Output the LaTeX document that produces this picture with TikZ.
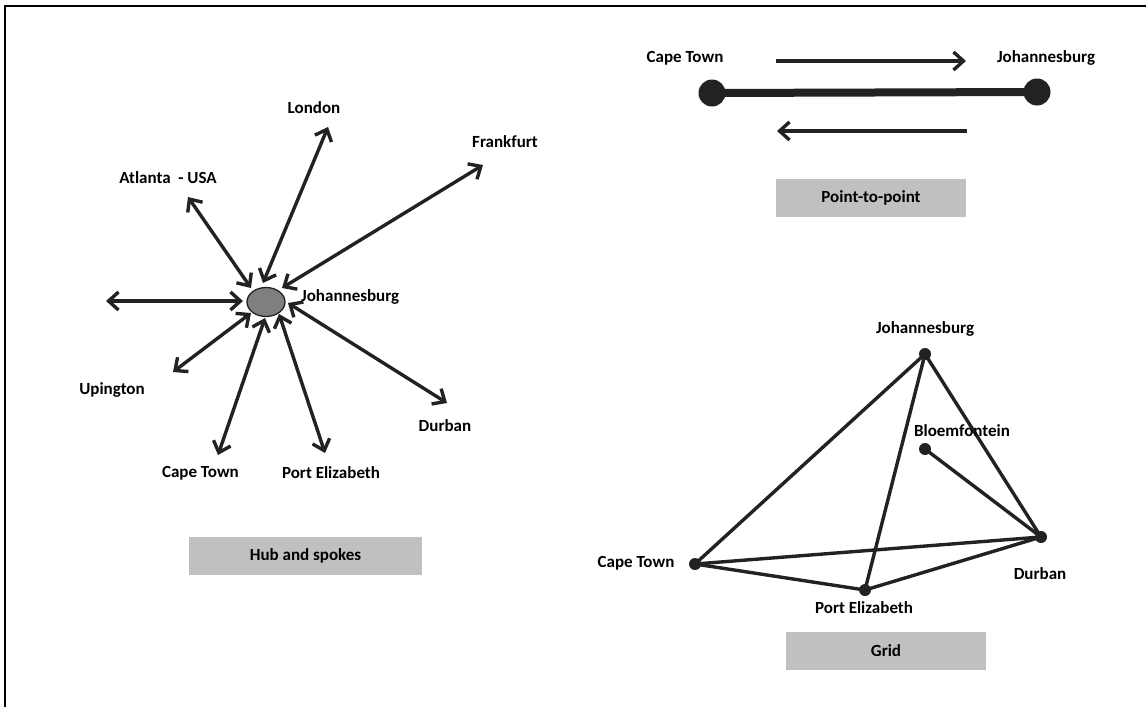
\documentclass[tikz,border=0pt]{standalone}
\usepackage{fontspec}
\setmainfont{Carlito}
\usetikzlibrary{arrows.meta,shapes.geometric}
\definecolor{ink}{HTML}{222222}
\definecolor{hubgray}{HTML}{7F7F7F}
\definecolor{capgray}{HTML}{C0C0C0}
\tikzset{
  lbl/.style={font=\bfseries\fontsize{17}{19}\selectfont, inner sep=0pt},
  caption/.style={fill=capgray, minimum width=#1, minimum height=38pt, inner sep=0pt,
    font=\bfseries\fontsize{17}{19}\selectfont},
  barb/.tip={Straight Barb[length=10pt,width=18pt]},
  spoke/.style={draw=ink, line width=3.4pt, barb-barb},
  oneway/.style={draw=ink, line width=3.4pt, -barb},
  gridline/.style={draw=ink, line width=3.4pt},
  gdot/.style={circle, fill=ink, minimum size=12pt, inner sep=0pt},
  bigdot/.style={circle, fill=ink, minimum size=27pt, inner sep=0pt},
}
\begin{document}
\begin{tikzpicture}[x=1pt,y=-1pt]
\useasboundingbox (0,0) rectangle (1146,707);
% frame
\draw[line width=1.5pt] (5,707) -- (5,6) -- (1146,6);

% ---------- hub and spokes ----------
\node[ellipse, draw=ink, fill=hubgray, line width=1.3pt, minimum width=38pt, minimum height=29pt, inner sep=0pt] (hub) at (266,302) {};
\node[lbl, anchor=west] (hubname) at (301,297) {Johannesburg};

\coordinate (lonIn) at (263,283);  \coordinate (lonOut) at (328,127);
\coordinate (atlIn) at (251,288);  \coordinate (atlOut) at (188,197);
\coordinate (fraIn) at (282,288);  \coordinate (fraOut) at (483,165);
\coordinate (wIn) at (243,301);    \coordinate (wOut) at (106,301);
\coordinate (upIn) at (251,313);   \coordinate (upOut) at (173,372);
\coordinate (ctIn) at (265,318);   \coordinate (ctOut) at (218,455);
\coordinate (peIn) at (279,314);   \coordinate (peOut) at (325,453);
\coordinate (duIn) at (288,303);   \coordinate (duOut) at (447,403);

\draw[spoke] (lonIn) -- (lonOut);
\draw[spoke] (atlIn) -- (atlOut);
\draw[spoke] (fraIn) -- (fraOut);
\draw[spoke] (wIn) -- (wOut);
\draw[spoke] (upIn) -- (upOut);
\draw[spoke] (ctIn) -- (ctOut);
\draw[spoke] (peIn) -- (peOut);
\draw[spoke] (duIn) -- (duOut);

\node[lbl] (lon) at (314,108) {London};
\node[lbl] (fra) at (505,142) {Frankfurt};
\node[lbl] (atl) at (168,178) {Atlanta\ \ - USA};
\node[lbl] (upi) at (112,390) {Upington};
\node[lbl, anchor=east] (hct) at (239,473) {Cape Town};
\node[lbl] (hpe) at (331,473) {Port Elizabeth};
\node[lbl] (hdu) at (445,426) {Durban};

\node[caption=233pt] (hubcap) at (305.5,556) {Hub and spokes};

% ---------- point-to-point ----------
\node[lbl] (pct) at (685,58) {Cape Town};
\node[lbl] (pjo) at (1046,58) {Johannesburg};
\node[bigdot] (pa) at (712,93) {};
\node[bigdot] (pb) at (1037,92) {};
\draw[ink, line width=8pt] (pa.center) -- (pb.center);
\coordinate (tA) at (776,61);  \coordinate (tB) at (966,61);
\coordinate (bA) at (967,131); \coordinate (bB) at (777,131);
\draw[oneway] (tA) -- (tB);
\draw[oneway] (bA) -- (bB);
\node[caption=190pt] (ptpcap) at (871,197.5) {Point-to-point};

% ---------- grid ----------
\node[gdot] (gjo) at (925,354) {};
\node[gdot] (gbl) at (925,449) {};
\node[gdot] (gdu) at (1041,537) {};
\node[gdot] (gct) at (695,564) {};
\node[gdot] (gpe) at (865,590) {};
\draw[gridline] (gct.center) -- (gjo.center);
\draw[gridline] (gjo.center) -- (gpe.center);
\draw[gridline] (gjo.center) -- (gdu.center);
\draw[gridline] (gbl.center) -- (gdu.center);
\draw[gridline] (gct.center) -- (gdu.center);
\draw[gridline] (gct.center) -- (gpe.center);
\draw[gridline] (gpe.center) -- (gdu.center);
\node[lbl] (ljo) at (925,329) {Johannesburg};
\node[lbl] (lbl) at (962,431) {Bloemfontein};
\node[lbl] (ldu) at (1040,574) {Durban};
\node[lbl] (lct) at (636,563) {Cape Town};
\node[lbl] (lpe) at (864,608) {Port Elizabeth};
\node[caption=200pt] (gridcap) at (886,651) {Grid};
\end{tikzpicture}
\end{document}
